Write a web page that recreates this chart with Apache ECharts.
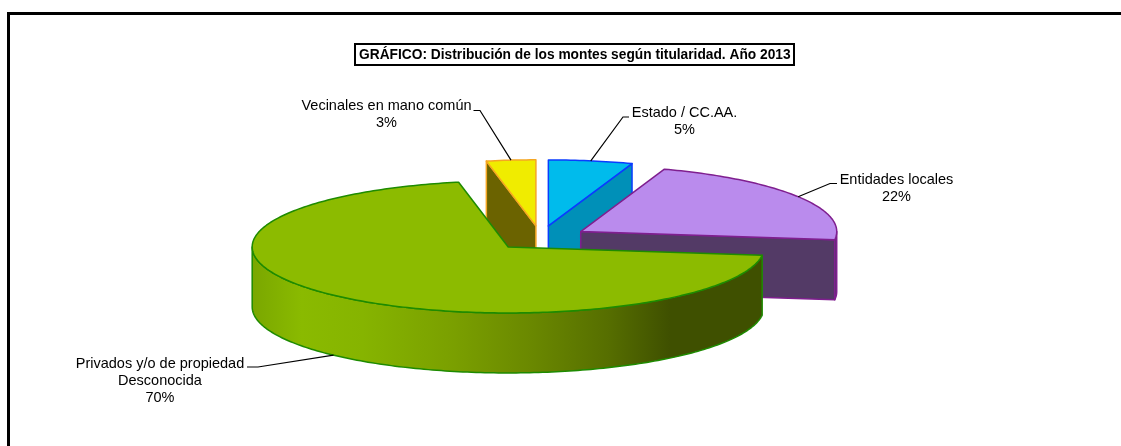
<!DOCTYPE html>
<html>
<head>
<meta charset="utf-8">
<style>
  html, body { margin: 0; padding: 0; background: #fff; }
  #chart { width: 1121px; height: 446px; }
</style>
<script src="https://cdn.jsdelivr.net/npm/echarts@6/dist/echarts.min.js"></script>
</head>
<body>
<div id="chart"></div>
<script>
const titleText = 'GRÁFICO: Distribución de los montes según titularidad. Año 2013';
const categories = ['Estado / CC.AA.', 'Entidades locales', 'Privados y/o de propiedad\nDesconocida', 'Vecinales en mano común'];
// shares, the labels round them
const values = [5.3, 21.7, 69.9, 3.1];
const topColors = ['#00bbec', '#ba8bed', '#8cbb00', '#f0ec00'];
const wallColors = ['#0090b8', '#533a66', '#3f5000', '#6b6300'];
const edgeColors = ['#0a3cff', '#7f1f8f', '#1e8b00', '#f5a623'];

// pie geometry
const CX = 540.5, CY = 238, RX = 256, RY = 66, DEPTH = 60, EXPLODE = 0.185;
// where each label sits: text centre x, first line y, leader elbow and its end
const labelLayout = [
  {x: 684.5, y: 113, elbow: [623, 117], end: [629, 117]},
  {x: 896.5, y: 179.5, elbow: [830, 183.5], end: [837, 183.5]},
  {x: 160, y: 363.5, elbow: [258, 367], end: [247, 367]},
  {x: 386.5, y: 106, elbow: [480, 110.5], end: [473.5, 110.5]}
];
// back to front
const drawOrder = [0, 3, 1, 2];

const total = values.reduce((a, b) => a + b, 0);
const slices = [];
let acc = 0;
values.forEach((v) => {
  const start = acc / total * 360;
  acc += v;
  slices.push({start, end: acc / total * 360});
});

const rad = (d) => d * Math.PI / 180;

function sliceCenter(s) {
  const mid = rad((s.start + s.end) / 2);
  return [CX + RX * EXPLODE * Math.sin(mid), CY - RY * EXPLODE * Math.cos(mid)];
}

function rim(c, deg, drop) {
  return [c[0] + RX * Math.sin(rad(deg)), c[1] - RY * Math.cos(rad(deg)) + (drop || 0)];
}

function arcPoints(c, from, to, drop) {
  const pts = [];
  for (let d = from; d < to; d += 1) pts.push(rim(c, d, drop));
  pts.push(rim(c, to, drop));
  return pts;
}

const greenWall = {
  type: 'linear', x: 250, y: 0, x2: 762, y2: 0, global: true,
  colorStops: [
    {offset: 0, color: '#79a600'},
    {offset: 0.1, color: '#8aba00'},
    {offset: 0.22, color: '#86b400'},
    {offset: 0.4, color: '#7a9f00'},
    {offset: 0.55, color: '#6a8800'},
    {offset: 0.7, color: '#566e00'},
    {offset: 0.82, color: '#3f5000'},
    {offset: 1, color: '#3f5000'}
  ]
};

function renderSlice(params, api) {
  const i = api.value(0);
  const s = slices[i];
  const c = sliceCenter(s);
  const edge = edgeColors[i];
  const children = [];
  const wall = i === 2 ? greenWall : wallColors[i];
  const poly = (points, fill) => ({
    type: 'polygon',
    shape: {points},
    style: {fill, stroke: edge, lineWidth: 1.5, lineJoin: 'round'}
  });

  // cut faces turned towards the viewer
  if (s.end < 180) {
    const p = rim(c, s.end);
    children.push(poly([c, p, [p[0], p[1] + DEPTH], [c[0], c[1] + DEPTH]], wall));
  }
  if (s.start > 180) {
    const p = rim(c, s.start);
    children.push(poly([c, p, [p[0], p[1] + DEPTH], [c[0], c[1] + DEPTH]], wall));
  }
  // outer wall, front half only
  const from = Math.max(s.start, 90), to = Math.min(s.end, 270);
  if (to > from) {
    const upper = arcPoints(c, from, to, 0);
    const lower = arcPoints(c, from, to, DEPTH).reverse();
    children.push(poly(upper.concat(lower), wall));
  }
  // top face
  children.push(poly([c].concat(arcPoints(c, s.start, s.end, 0)), topColors[i]));

  // leader and label
  const mid = (s.start + s.end) / 2;
  const onFront = mid > 90 && mid < 270;
  const layout = labelLayout[i];
  children.push({
    type: 'polyline',
    shape: {points: [rim(c, mid, onFront ? DEPTH : 0), layout.elbow, layout.end]},
    style: {fill: null, stroke: '#000', lineWidth: 1.2}
  });
  children.push({
    type: 'text',
    z2: 10,
    style: {
      text: categories[i] + '\n' + Math.round(values[i]) + '%',
      x: layout.x,
      y: layout.y - 8.5,
      align: 'center',
      verticalAlign: 'top',
      lineHeight: 17,
      fill: '#000',
      font: '14.5px "Liberation Sans"'
    }
  });
  return {type: 'group', children};
}

const chart = echarts.init(document.getElementById('chart'), null, {renderer: 'canvas'});
chart.setOption({
  animation: false,
  backgroundColor: '#fff',
  title: {
    text: titleText,
    left: 355,
    top: 44,
    padding: [4, 4, 2, 4],
    borderColor: '#000',
    borderWidth: 2,
    backgroundColor: '#fff',
    textStyle: {fontFamily: 'Liberation Sans', fontSize: 13.75, fontWeight: 'bold', color: '#000', lineHeight: 15}
  },
  graphic: [{
    type: 'polyline',
    silent: true,
    shape: {points: [[8.5, 446], [8.5, 13.5], [1121, 13.5]]},
    style: {fill: null, stroke: '#000', lineWidth: 3}
  }],
  series: [{
    type: 'custom',
    coordinateSystem: 'none',
    silent: true,
    renderItem: renderSlice,
    data: drawOrder.map((i) => [i])
  }]
});
</script>
</body>
</html>
